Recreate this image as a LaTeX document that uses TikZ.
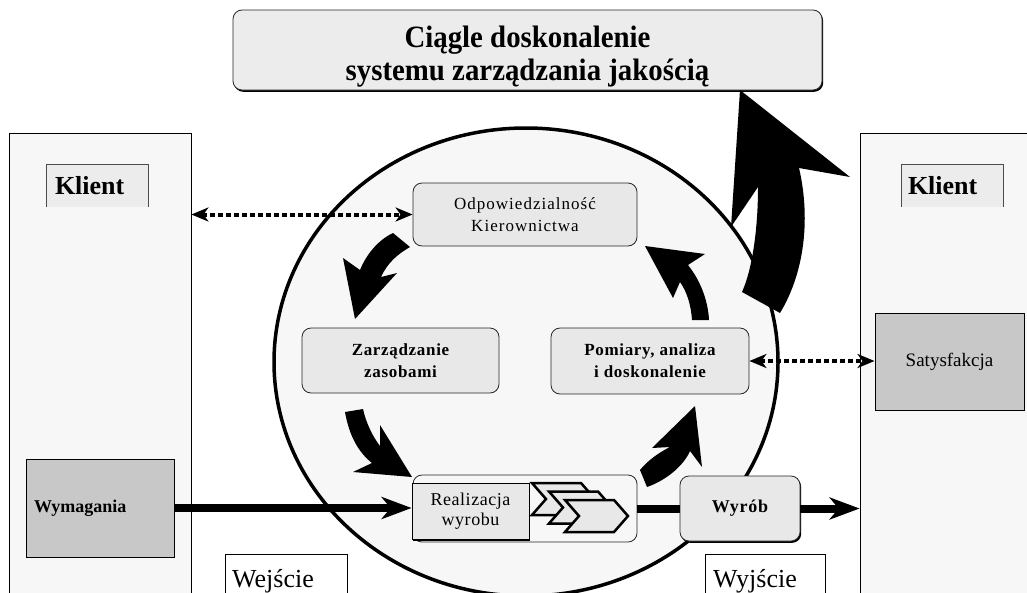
\documentclass[tikz,border=0pt]{standalone}
\usepackage{fontspec}
\setmainfont{Liberation Serif}
\usepackage{graphicx}
\usetikzlibrary{arrows.meta,shadows}
\definecolor{panel}{HTML}{F7F7F7}
\definecolor{boxg}{HTML}{E8E8E8}
\definecolor{topg}{HTML}{ECECEC}
\definecolor{darkg}{HTML}{C8C8C8}
\newcommand{\toplines}{\setlength{\lineskiplimit}{-100pt}}
\begin{document}
\begin{tikzpicture}[x=1pt,y=-1pt,
  panelbox/.style={draw=black, line width=0.8pt, fill=panel, inner sep=0pt},
  roundbox/.style={draw=black!85, line width=0.8pt, fill=boxg, rounded corners=9pt, align=center, inner sep=0pt},
  greybox/.style={draw=black, line width=1pt, fill=darkg, inner sep=0pt},
  klbox/.style={fill=topg, inner sep=0pt, minimum width=101pt, minimum height=42pt, align=left, font=\fontsize{26pt}{28pt}\selectfont\bfseries},
  shadowed/.style={general shadow={fill=black, shadow xshift=1.2pt, shadow yshift=-1.8pt}},
  lbl/.style={font=\fontsize{17pt}{22pt}\selectfont\addfontfeature{LetterSpace=6}},
  blbl/.style={font=\fontsize{17pt}{22pt}\selectfont\bfseries\addfontfeature{LetterSpace=4}},
  thickline/.style={line width=8pt},
  thickarrow/.style={line width=8pt, -{Stealth[length=30pt,width=22pt,inset=9pt]}},
  dotarrow/.style={line width=4pt, dash pattern=on 5pt off 3pt,
     {Stealth[length=17pt,width=14pt,inset=5pt]}-{Stealth[length=17pt,width=14pt,inset=5pt]}},
  blockarrow/.style={fill=black},
  chev/.style={fill=boxg, draw=black, line width=2.5pt, line join=miter},
  bigtxt/.style={font=\fontsize{26pt}{28pt}\selectfont}
]
\useasboundingbox (0,0) rectangle (1027,592);
\clip (0,0) rectangle (1027,592);
\fill[white] (0,0) rectangle (1027,592);

% side panels
\node[panelbox, minimum width=182pt, minimum height=470pt] (lp) at (100,368) {};
\node[panelbox, minimum width=190pt, minimum height=470pt] (rp) at (955,368) {};

% Klient boxes
\node[klbox, text width=85pt] (kl1) at (97.5,186) {Klient};
\draw[black!70, line width=0.8pt] (kl1.south west) -- (kl1.north west) -- (kl1.north east) -- (kl1.south east);
\node[klbox, text width=89pt] (kl2) at (952.5,186) {Klient};
\draw[black!70, line width=0.8pt] (kl2.south west) -- (kl2.north west) -- (kl2.north east) -- (kl2.south east);

% big circle
\draw[line width=3.5pt, fill=panel] (526,362) ellipse [x radius=252, y radius=234];

% top box
\node[roundbox, fill=topg, shadowed, minimum width=589pt, minimum height=80pt] (top) at (527.5,50) {};
\node[align=center, inner sep=0pt,
      font=\fontsize{31pt}{33pt}\selectfont\bfseries] (toptxt) at (527.5,57)
  {\toplines\scalebox{0.93}[1]{Ciągle doskonalenie}\\\scalebox{0.93}[1]{systemu zarządzania jakością}};

% inner boxes
\node[roundbox, lbl, minimum width=224pt, minimum height=63pt] (odp) at (525,214.5)
  {Odpowiedzialność\\Kierownictwa};
\node[roundbox, blbl, minimum width=197pt, minimum height=65pt] (zarz) at (400.5,360.5)
  {Zarządzanie\\zasobami};
\node[roundbox, blbl, minimum width=198pt, minimum height=66pt] (pom) at (650,361)
  {Pomiary, analiza\\i doskonalenie};
\node[roundbox, fill=panel, minimum width=224pt, minimum height=67pt] (realout) at (525,508.5) {};
\node[draw=black, line width=0.8pt, fill=boxg, shadowed, inner sep=0pt, align=center,
      font=\fontsize{18pt}{20pt}\selectfont\addfontfeature{LetterSpace=3}, minimum width=117pt, minimum height=56pt] (real) at (470.5,511)
  {Realizacja\\wyrobu};
\foreach \cx/\cy in {532/483, 549/491.5, 565/500}
  \draw[chev] (\cx,\cy) -- ++(49,0) -- ++(14,16) -- ++(-14,16) -- ++(-49,0) -- ++(14,-16) -- cycle;
\node[roundbox, shadowed, font=\fontsize{18pt}{20pt}\selectfont\bfseries\addfontfeature{LetterSpace=4},
      minimum width=120pt, minimum height=65pt] (wyr) at (740,508.5) {Wyrób};

% grey boxes
\node[greybox, minimum width=148pt, minimum height=98pt, text width=132pt, align=left,
      font=\fontsize{18pt}{20pt}\selectfont\bfseries] (wym) at (100,508) {Wymagania};
\node[greybox, minimum width=149pt, minimum height=97pt,
      font=\fontsize{19pt}{21pt}\selectfont] (sat) at (949.5,361.5) {Satysfakcja};

% input / output labels
\draw[line width=0.8pt, fill=white] (225,554) rectangle (347,600);
\node[bigtxt, anchor=base west, inner sep=0pt] (wej) at (232,587) {Wejście};
\draw[line width=0.8pt, fill=white] (705,554) rectangle (825,600);
\node[bigtxt, anchor=base west, inner sep=0pt] (wyj) at (713,587) {Wyjście};

% main flow
\draw[thickarrow] (wym.east) -- (wym.east -| real.west);
\draw[thickline] (realout.east) -- (wyr.west);
\draw[thickarrow] (wyr.east) -- (wyr.east -| rp.west);

% dotted double arrows
\draw[dotarrow] (lp.east |- odp.west) -- (odp.west);
\draw[dotarrow] (pom.east) -- (sat.west |- pom.east);

% curved block arrows of the cycle
\fill[blockarrow] (393,233) .. controls (378,240) and (366,255) .. (360,270) -- (343,258) -- (355,319)
  -- (397,273) -- (381,277) .. controls (388,262) and (398,254) .. (410,247) -- cycle;
\fill[blockarrow] (345,412) .. controls (349,435) and (358,452) .. (372,463) -- (353,472) -- (412,477)
  -- (380,425) -- (380,446) .. controls (373,437) and (366,423) .. (363,409) -- cycle;
\fill[blockarrow] (640,470) .. controls (648,460) and (660,452) .. (670,447) -- (652,448) -- (695,406)
  -- (702,467) -- (690,451) .. controls (684,465) and (667,480) .. (647,487) -- cycle;
\fill[blockarrow] (692,320) .. controls (691,305) and (687,292) .. (680,282) -- (673,298) -- (645,246)
  -- (705,254) -- (688,265) .. controls (700,280) and (708,300) .. (709,320) -- cycle;

% big improvement arrow
\fill[blockarrow] (742,292) .. controls (752,270) and (758,230) .. (758,187) -- (731,227) -- (740,90)
  -- (850,177) -- (799,168) .. controls (810,215) and (806,270) .. (780,313) -- cycle;
\end{tikzpicture}
\end{document}
